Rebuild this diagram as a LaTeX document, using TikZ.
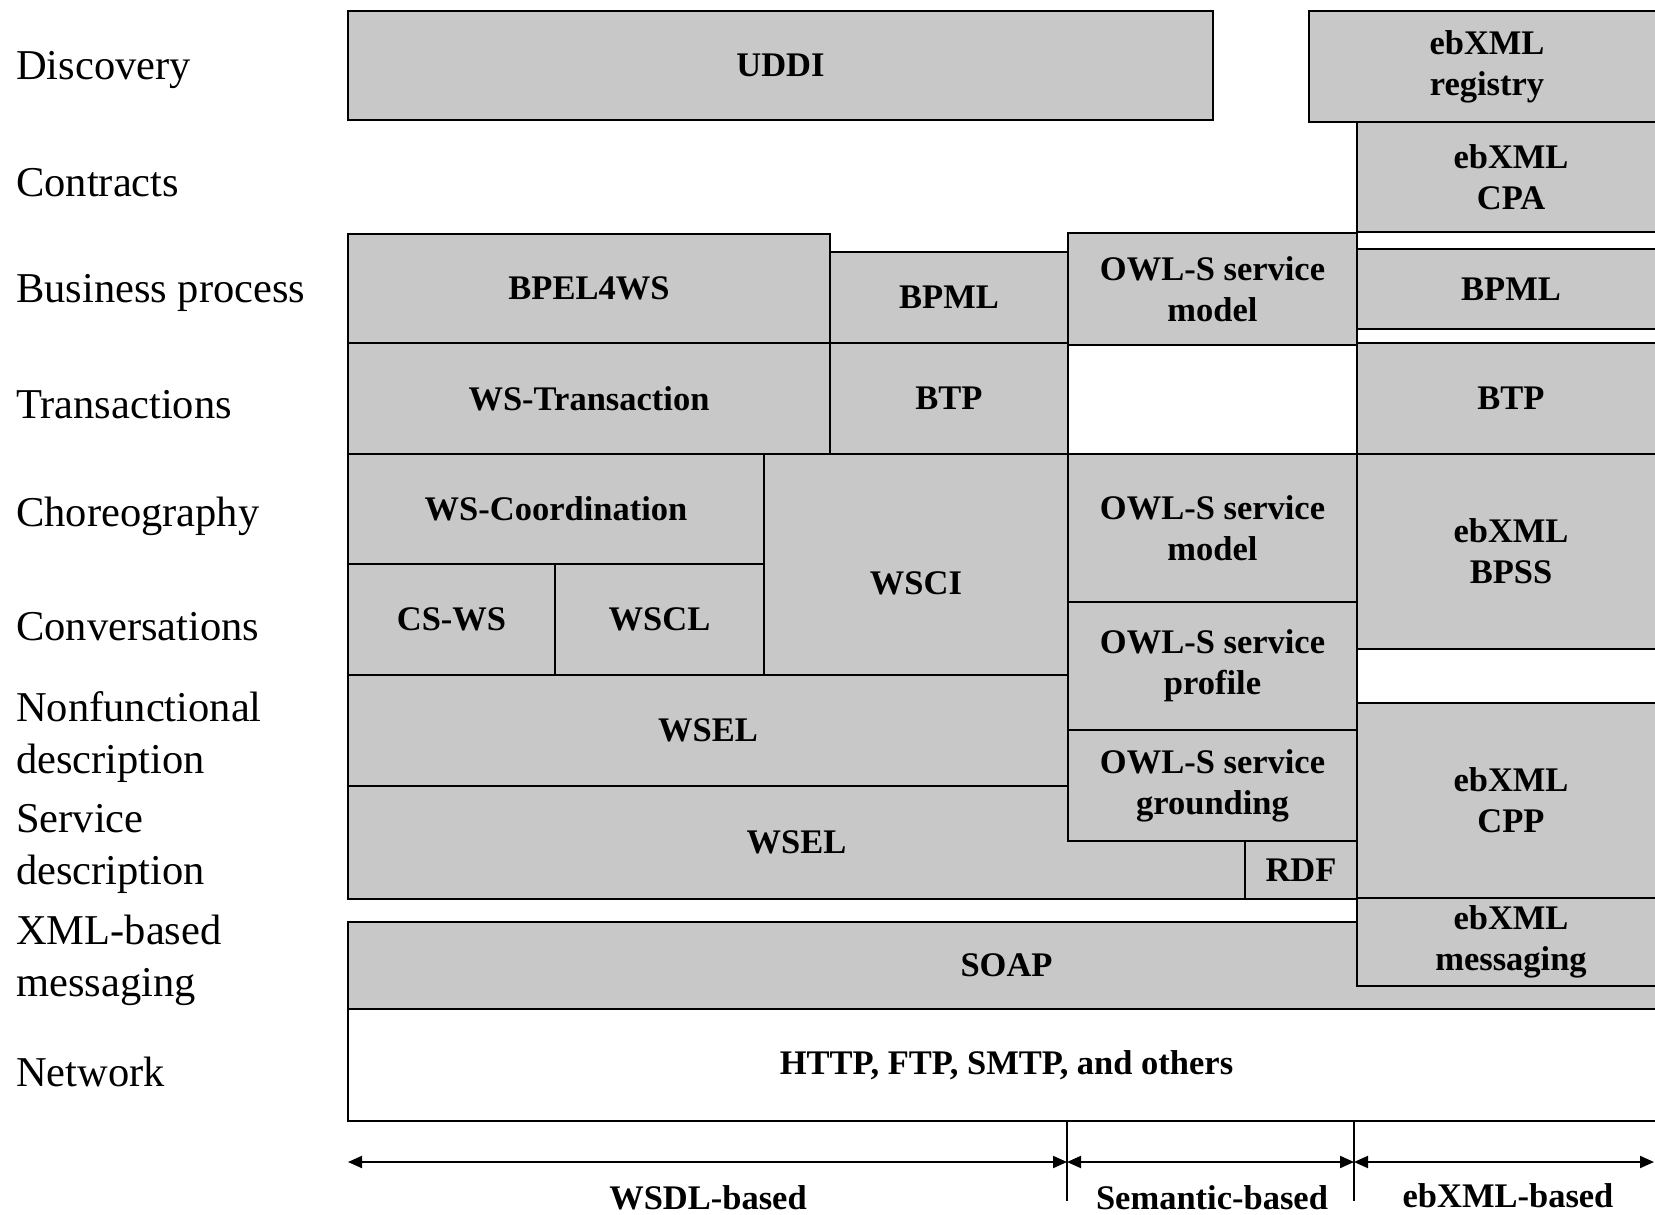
\documentclass[tikz,border=0pt]{standalone}
\usepackage{fontspec}
\setmainfont{Liberation Serif}
\usepackage{tikz}
\usetikzlibrary{arrows.meta}

\definecolor{boxgray}{RGB}{200,200,200}

\tikzset{
  layer/.style={anchor=west, align=left, inner sep=0pt, yshift=-4pt,
    font=\fontsize{42.5}{52}\selectfont},
  blk/.style={draw, fill=boxgray, line width=2.2pt, align=center, inner sep=0pt,
    font=\fontsize{34.5}{41}\selectfont\bfseries},
  basisarrow/.style={{Triangle[length=14pt,width=12pt]}-{Triangle[length=14pt,width=12pt]},
    line width=2pt},
  basislabel/.style={font=\fontsize{34.5}{41}\selectfont\bfseries, inner sep=0pt},
}

\begin{document}
\begin{tikzpicture}[x=1pt, y=-1pt]

    \useasboundingbox (0,0) rectangle (1655,1215);
    \clip (0,0) rectangle (1655,1215);

    % layer names
    \node[layer] (discovery)     at (16, 66.5) {Discovery};
    \node[layer] (contracts)     at (16, 179)  {Contracts};
    \node[layer] (business)      at (16, 289)  {Business process};
    \node[layer] (transactions)  at (16, 401)  {Transactions};
    \node[layer] (choreography)  at (16, 512)  {Choreography};
    \node[layer] (conversations) at (16, 623)  {Conversations};
    \node[layer] (nonfunc)       at (16, 733)  {Nonfunctional\\description};
    \node[layer] (servdesc)      at (16, 845)  {Service\\description};
    \node[layer] (xmlmsg)        at (16, 956)  {XML-based\\messaging};
    \node[layer] (network)       at (16, 1068) {Network};

    % discovery and contracts
    \node[blk, minimum width=865pt, minimum height=109pt] (uddi)     at (780.5, 65.5) {UDDI};
    \node[blk, minimum width=356pt, minimum height=111pt] (registry) at (1487, 66.5)  {ebXML\\registry};
    \node[blk, minimum width=308pt, minimum height=110pt] (cpa)      at (1511, 177)   {ebXML\\CPA};

    % business process and transactions
    \node[blk, minimum width=482pt, minimum height=109pt] (bpel)   at (589, 288.5)    {BPEL4WS};
    \node[blk, minimum width=238pt, minimum height=91pt]  (bpmlA)  at (949, 297.5)    {BPML};
    \node[blk, minimum width=289pt, minimum height=112pt] (owlA)   at (1212.5, 289)   {OWL-S service\\model};
    \node[blk, minimum width=308pt, minimum height=80pt]  (bpmlB)  at (1511, 289)     {BPML};
    \node[blk, minimum width=482pt, minimum height=111pt] (wstx)   at (589, 398.5)    {WS-Transaction};
    \node[blk, minimum width=238pt, minimum height=111pt] (btpA)   at (949, 398.5)    {BTP};
    \node[blk, minimum width=308pt, minimum height=111pt] (btpB)   at (1511, 398.5)   {BTP};

    % choreography and conversations
    \node[blk, minimum width=416pt, minimum height=110pt] (wscoord) at (556, 509)      {WS-Coordination};
    \node[blk, minimum width=304pt, minimum height=259pt] (wsci)    at (916, 583.5)    {WSCI};
    \node[blk, minimum width=289pt, minimum height=148pt] (owlB)    at (1212.5, 528)   {OWL-S service\\model};
    \node[blk, minimum width=308pt, minimum height=195pt] (bpss)    at (1511, 551.5)   {ebXML\\BPSS};
    \node[blk, minimum width=207pt, minimum height=111pt] (csws)    at (451.5, 619.5)  {CS-WS};
    \node[blk, minimum width=209pt, minimum height=111pt] (wscl)    at (659.5, 619.5)  {WSCL};
    \node[blk, minimum width=289pt, minimum height=128pt] (profile) at (1212.5, 666)   {OWL-S service\\profile};

    % description
    \node[blk, minimum width=720pt, minimum height=111pt] (wselA)  at (708, 730.5)    {WSEL};
    \node[blk, minimum width=308pt, minimum height=195pt] (cpp)    at (1511, 800.5)   {ebXML\\CPP};
    \node[blk, minimum width=897pt, minimum height=113pt] (wselB)  at (796.5, 842.5)  {WSEL};
    \node[blk, minimum width=289pt, minimum height=111pt] (ground) at (1212.5, 785.5) {OWL-S service\\grounding};
    \node[blk, minimum width=112pt, minimum height=58pt]  (rdf)    at (1301, 870)     {RDF};

    % messaging and network
    \node[blk, minimum width=1317pt, minimum height=87pt] (soap)  at (1006.5, 965.5) {SOAP};
    \node[blk, minimum width=308pt, minimum height=88pt]  (ebmsg) at (1511, 942)     {ebXML\\messaging};
    \node[blk, fill=white, minimum width=1317pt, minimum height=112pt] (http) at (1006.5, 1065) {HTTP, FTP, SMTP, and others};

    % families
    \coordinate (a0) at (348, 1162);
    \coordinate (a1) at (1067, 1162);
    \coordinate (a2) at (1354, 1162);
    \coordinate (a3) at (1654, 1162);
    \coordinate (t1top) at (1067, 1121);
    \coordinate (t1bot) at (1067, 1201);
    \coordinate (t2top) at (1354, 1121);
    \coordinate (t2bot) at (1354, 1201);

    \draw[line width=2pt] (t1top) -- (t1bot);
    \draw[line width=2pt] (t2top) -- (t2bot);
    \draw[basisarrow] (a0) -- (a1);
    \draw[basisarrow] (a1) -- (a2);
    \draw[basisarrow] (a2) -- (a3);

    \node[basislabel] (wsdl)     at (708, 1198)  {WSDL-based};
    \node[basislabel] (semantic) at (1212, 1198) {Semantic-based};
    \node[basislabel] (ebxml)    at (1508, 1196) {ebXML-based};

\end{tikzpicture}
\end{document}
